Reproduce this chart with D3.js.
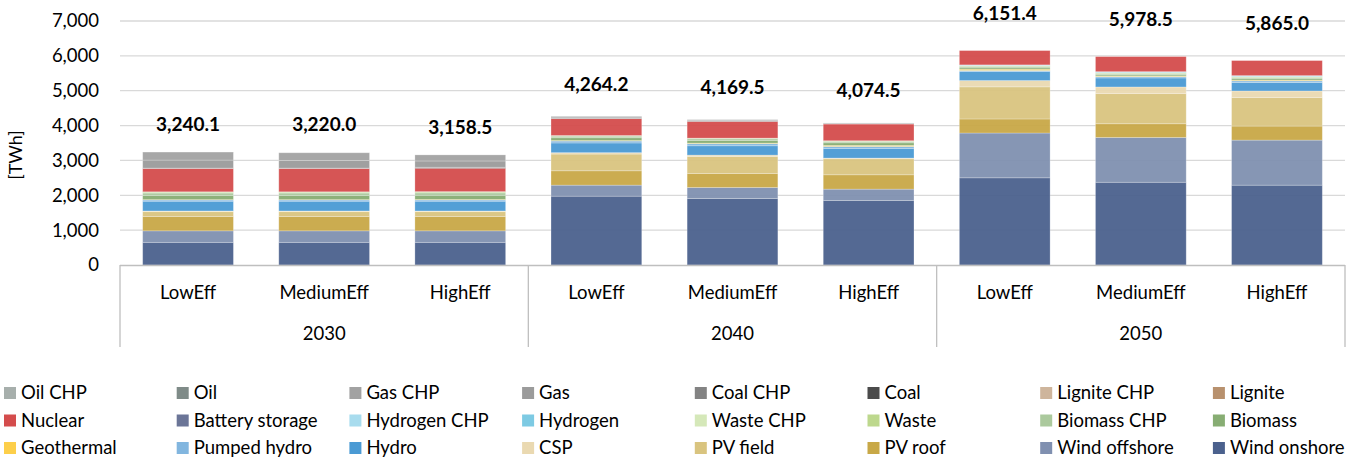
<!DOCTYPE html>
<html>
<head>
<meta charset="utf-8">
<script src="https://cdn.jsdelivr.net/npm/d3@7"></script>
<style>
  body { margin: 0; background: #fff; }
  svg text { font-family: Lato, "Open Sans", sans-serif; fill: #000; }
</style>
</head>
<body>
<svg id="chart" width="1359" height="459"></svg>
<script>
// data
const years = ["2030", "2040", "2050"]
const scenarios = ["LowEff", "MediumEff", "HighEff"]
const yTicks = [0, 1000, 2000, 3000, 4000, 5000, 6000, 7000]

// one value per bar: 2030 Low/Med/High, 2040 Low/Med/High, 2050 Low/Med/High
const oilCHP        = [0, 0, 0, 0, 0, 0, 0, 0, 0]
const oil           = [0, 0, 0, 0, 0, 0, 0, 0, 0]
const gasCHP        = [230.1, 220, 173.5, 20.2, 14.5, 8.5, 0, 0, 0]
const gas           = [230, 220, 180, 30, 22, 12, 0, 0, 0]
const coalCHP       = [5, 5, 10, 5, 5, 4, 0, 0, 0]
const coal          = [5, 5, 20, 10, 8, 5, 0, 0, 0]
const ligniteCHP    = [0, 0, 0, 0, 0, 0, 0, 0, 0]
const lignite       = [0, 0, 0, 0, 0, 0, 0, 0, 0]
const nuclear       = [670, 670, 670, 484, 480, 480, 410, 432, 432]
const battery       = [0, 0, 0, 0, 0, 0, 0, 0, 0]
const hydrogenCHP   = [0, 0, 0, 0, 0, 0, 5, 10, 10]
const hydrogen      = [0, 0, 0, 0, 0, 0, 10, 15, 15]
const wasteCHP      = [10, 10, 10, 4, 4, 4, 10, 5, 10]
const waste         = [25, 25, 25, 15, 15, 15, 20, 20, 20]
const biomassCHP    = [70, 70, 70, 45, 45, 40, 40, 35, 35]
const biomass       = [120, 120, 120, 80, 80, 75, 40, 35, 40]
const geothermal    = [10, 10, 15, 15, 15, 30, 35, 20, 20]
const pumpedHydro   = [35, 35, 35, 55, 60, 55, 30, 40, 50]
const hydro         = [280, 280, 280, 278, 268, 278, 259, 259, 240]
const csp           = [20, 20, 20, 40, 38, 20, 182, 192, 192]
const pvField       = [140, 140, 140, 480, 489, 460, 921, 863, 815]
const pvRoof        = [410, 410, 410, 412, 403, 412, 403, 394, 403]
const windOffshore  = [330, 330, 330, 316, 316, 326, 1285, 1285, 1293]
const windOnshore   = [650, 650, 650, 1975, 1907, 1850, 2501.4, 2373.5, 2290]

const totals = [3240.1, 3220.0, 3158.5, 4264.2, 4169.5, 4074.5, 6151.4, 5978.5, 5865.0]

// legend order (top of stack first)
const series = [
  ["Oil CHP", oilCHP, "#a7afac"], ["Oil", oil, "#7f8b88"], ["Gas CHP", gasCHP, "#a2a2a2"], ["Gas", gas, "#9b9b9b"],
  ["Coal CHP", coalCHP, "#838383"], ["Coal", coal, "#4b4b4b"], ["Lignite CHP", ligniteCHP, "#ceb59c"], ["Lignite", lignite, "#b8916e"],
  ["Nuclear", nuclear, "#d44c4c"], ["Battery storage", battery, "#6b7597"], ["Hydrogen CHP", hydrogenCHP, "#a8dcee"], ["Hydrogen", hydrogen, "#7dcae3"],
  ["Waste CHP", wasteCHP, "#d5e8b9"], ["Waste", waste, "#bdd88d"], ["Biomass CHP", biomassCHP, "#abc99d"], ["Biomass", biomass, "#87ad73"],
  ["Geothermal", geothermal, "#fdcf4a"], ["Pumped hydro", pumpedHydro, "#82b6df"], ["Hydro", hydro, "#4a9ad4"], ["CSP", csp, "#ead9b1"],
  ["PV field", pvField, "#d9c47f"], ["PV roof", pvRoof, "#c8a847"], ["Wind offshore", windOffshore, "#8090b0"], ["Wind onshore", windOnshore, "#4b618d"]
]

const rows = []
years.forEach((yr, i) => scenarios.forEach((s, j) => {
  const r = { year: yr, scen: s, total: totals[i * 3 + j] }
  series.forEach(d => r[d[0]] = d[1][i * 3 + j])
  rows.push(r)
}))

const svg = d3.select("#chart")
const plotL = 120, plotR = 1345, plotT = 21, plotB = 265

const y = d3.scaleLinear().domain([0, 7000]).range([plotB, plotT])
const x0 = d3.scaleBand().domain(years).range([plotL, plotR])
const x1 = d3.scaleBand().domain(scenarios).range([0, x0.bandwidth()])
  .paddingInner(1 / 3).paddingOuter(1 / 6)

// gridlines
svg.append("g").selectAll("line")
  .data(yTicks.filter(d => d > 0))
  .join("line")
  .attr("x1", plotL).attr("x2", plotR)
  .attr("y1", d => y(d)).attr("y2", d => y(d))
  .attr("stroke", "#d9d9d9").attr("stroke-width", 1.3)

// y axis labels
const yAxis = svg.append("g")
  .attr("transform", `translate(${plotL - 21},0)`)
  .call(d3.axisLeft(y).tickValues(yTicks).tickSize(0).tickPadding(0).tickFormat(d3.format(",")))
yAxis.select(".domain").remove()
yAxis.selectAll("text").attr("font-size", 18.5).attr("font-family", "Lato").attr("fill", "#000")

svg.append("text")
  .attr("transform", "translate(22,155) rotate(-90)")
  .attr("text-anchor", "middle")
  .attr("font-size", 18)
  .text("[TWh]")

// stacks, bottom = last legend entry
const keys = series.map(d => d[0]).reverse()
const colors = Object.fromEntries(series.map(d => [d[0], d[2]]))
const stack = d3.stack().keys(keys)(rows)

svg.append("g").selectAll("g")
  .data(stack)
  .join("g")
  .attr("fill", d => colors[d.key])
  .selectAll("rect")
  .data(d => d.filter(p => p[1] - p[0] > 0))
  .join("rect")
  .attr("x", d => x0(d.data.year) + x1(d.data.scen))
  .attr("width", x1.bandwidth())
  .attr("y", d => y(d[1]))
  .attr("height", d => y(d[0]) - y(d[1]))
  .attr("fill-opacity", 0.95)
  .attr("stroke", "#fff").attr("stroke-opacity", 0.3).attr("stroke-width", 0.8)

// total labels
svg.append("g").selectAll("text")
  .data(rows)
  .join("text")
  .attr("x", d => x0(d.year) + x1(d.scen) + x1.bandwidth() / 2)
  .attr("y", d => y(d.total) - 28 - 4.5 * years.indexOf(d.year))
  .attr("dy", "0.35em")
  .attr("text-anchor", "middle")
  .attr("font-size", 19)
  .attr("font-weight", "bold")
  .text(d => d3.format(",.1f")(d.total))

// category axis
const cat = svg.append("g").attr("stroke", "#bfbfbf").attr("stroke-width", 1.3)
cat.append("line").attr("x1", plotL).attr("x2", plotR).attr("y1", plotB + 0.5).attr("y2", plotB + 0.5)
cat.selectAll("line.sep")
  .data([...years.map(d => x0(d)), plotR])
  .join("line")
  .attr("class", "sep")
  .attr("x1", d => d).attr("x2", d => d)
  .attr("y1", plotB).attr("y2", 347)

svg.append("g").selectAll("text")
  .data(rows)
  .join("text")
  .attr("x", d => x0(d.year) + x1(d.scen) + x1.bandwidth() / 2)
  .attr("y", 293).attr("dy", "0.35em")
  .attr("text-anchor", "middle")
  .attr("font-size", 18.5)
  .text(d => d.scen)

svg.append("g").selectAll("text")
  .data(years)
  .join("text")
  .attr("x", d => x0(d) + x0.bandwidth() / 2)
  .attr("y", 334).attr("dy", "0.35em")
  .attr("text-anchor", "middle")
  .attr("font-size", 18.5)
  .text(d => d)

// legend, 8 columns x 3 rows
const leg = svg.append("g").selectAll("g")
  .data(series)
  .join("g")
  .attr("transform", (d, i) => `translate(${4 + (i % 8) * 172.7},${393 + Math.floor(i / 8) * 27.5})`)
leg.append("rect").attr("x", 0).attr("y", -6).attr("width", 12).attr("height", 12).attr("fill", d => d[2])
leg.append("text").attr("x", 17).attr("dy", "0.35em").attr("font-size", 18.5).text(d => d[0])
</script>
</body>
</html>
